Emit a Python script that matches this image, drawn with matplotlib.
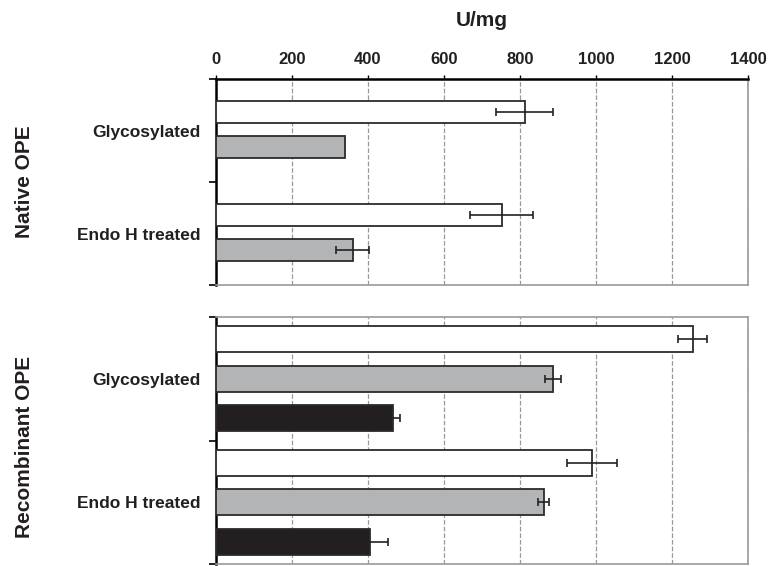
import numpy as np
import matplotlib
matplotlib.use('Agg')
import matplotlib.pyplot as plt

plt.rcParams['font.family'] = ['Liberation Sans', 'DejaVu Sans']
plt.rcParams['font.weight'] = 'bold'

# datos (U/mg)
treatments = ['Glycosylated', 'Endo H treated']
group_names = ['Native OPE', 'Recombinant OPE']

native_white = [812, 752]
native_white_err = [75, 83]
native_grey = [340, 360]
native_grey_err = [0, 43]

rec_white = [1254, 990]
rec_white_err = [38, 66]
rec_grey = [887, 862]
rec_grey_err = [21, 14]
rec_black = [465, 404]
rec_black_err = [20, 49]

xticks = [0, 200, 400, 600, 800, 1000, 1200, 1400]

W, H = 771, 566
fig = plt.figure(figsize=(W / 100, H / 100), dpi=100)

left, right = 216 / W, 748 / W
ax1 = fig.add_axes([left, 1 - 285 / H, right - left, (285 - 79) / H])
ax2 = fig.add_axes([left, 1 - 564 / H, right - left, (564 - 317) / H])

colors = {'white': 'white', 'grey': '#b3b4b6', 'black': '#231f20'}
edge = '#2b2b2b'


def draw_panel(ax, series, offsets, height):
    idx = np.arange(len(treatments))
    for (vals, errs, col), off in zip(series, offsets):
        ys = idx + off
        ax.barh(ys, vals, height=height, color=colors[col], edgecolor=edge,
                linewidth=1.3, zorder=3)
        e = np.array(errs, dtype=float)
        mask = e > 0
        if mask.any():
            ax.errorbar(np.array(vals)[mask], ys[mask], xerr=e[mask], fmt='none',
                        ecolor='#222222', elinewidth=1.2, capsize=3, capthick=1.2,
                        zorder=4)
    ax.set_xlim(0, 1400)
    ax.set_ylim(len(treatments), 0)
    ax.set_xticks(xticks)
    ax.grid(axis='x', linestyle='--', color='#999999', linewidth=0.9, zorder=0)
    ax.set_yticks(range(len(treatments) + 1))
    ax.set_yticklabels([])
    ax.tick_params(axis='y', which='major', direction='out', length=5, width=1.2)
    ax.set_yticks(idx + 0.5, minor=True)
    ax.set_yticklabels(treatments, minor=True, fontsize=12.5, fontweight='bold')
    ax.tick_params(axis='y', which='minor', length=0, pad=11, colors='#231f20')
    for s in ['top', 'right', 'bottom']:
        ax.spines[s].set_color('#999999')
        ax.spines[s].set_linewidth(1.2)
    ax.spines['left'].set_linewidth(1.8)
    ax.spines['left'].set_color('black')


draw_panel(ax1,
           [(native_white, native_white_err, 'white'),
            (native_grey, native_grey_err, 'grey')],
           [0.32, 0.66], 0.22)
draw_panel(ax2,
           [(rec_white, rec_white_err, 'white'),
            (rec_grey, rec_grey_err, 'grey'),
            (rec_black, rec_black_err, 'black')],
           [0.18, 0.5, 0.82], 0.21)

# eje superior solo en el primer panel
ax1.xaxis.tick_top()
ax1.spines['top'].set_color('black')
ax1.spines['top'].set_linewidth(1.8)
ax1.tick_params(axis='x', direction='out', length=3, width=1, pad=6,
                labelsize=12, labelcolor='#231f20')
for lab in ax1.get_xticklabels():
    lab.set_fontweight('bold')
ax1.set_xlabel('U/mg', fontsize=15, fontweight='bold', labelpad=18,
               color='#231f20')
ax1.xaxis.set_label_position('top')
ax2.tick_params(axis='x', length=0, labelbottom=False)

fig.text(25 / W, 1 - 182 / H, group_names[0], rotation=90, ha='center',
         va='center', fontsize=15, fontweight='bold', color='#231f20')
fig.text(25 / W, 1 - 447 / H, group_names[1], rotation=90, ha='center',
         va='center', fontsize=15, fontweight='bold', color='#231f20')

fig.savefig('out.png', dpi=100)
